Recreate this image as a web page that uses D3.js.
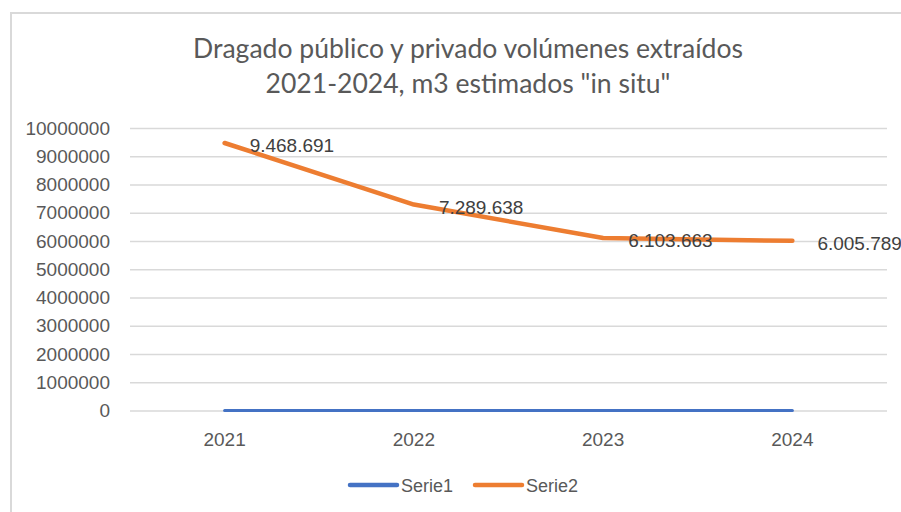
<!DOCTYPE html>
<html><head><meta charset="utf-8">
<script src="https://cdn.jsdelivr.net/npm/d3@7"></script>
<style>body{margin:0;background:#fff}svg{display:block}</style>
</head><body>
<svg id="c" width="901" height="512"></svg>
<script>
const categories = ["2021","2022","2023","2024"];
const serie1 = [0,0,0,0];
const serie2 = [9468691,7289638,6103663,6005789];
const serie2Labels = ["9.468.691","7.289.638","6.103.663","6.005.789"];
const yTicks = [0,1000000,2000000,3000000,4000000,5000000,6000000,7000000,8000000,9000000,10000000];
const titleLines = ["Dragado público y privado volúmenes extraídos","2021-2024, m3 estimados \"in situ\""];
const seriesNames = ["Serie1","Serie2"];
const colors = ["#4472C4","#ED7D31"];

const svg = d3.select("#c");
const txt = "#595959";
const font = "'Liberation Sans', Arial, sans-serif";

// chart border
svg.append("rect").attr("x",11).attr("y",13).attr("width",1000).attr("height",600)
  .attr("fill","#fff").attr("stroke","#d9d9d9").attr("stroke-width",2);

// title
const tEl = svg.append("g");
const tTexts = titleLines.map((t,i)=>tEl.append("text").attr("x",468).attr("y",58+i*35).attr("text-anchor","middle")
    .attr("font-family","Lato, 'Open Sans', sans-serif").attr("font-size",23).attr("fill",txt).text(t));
const w0 = tTexts[0].node().getComputedTextLength();
const fs = Math.min(27, 23*550/w0);
tTexts.forEach(t=>t.attr("font-size",fs));

const x = d3.scaleBand().domain(categories).range([130,887]);
const y = d3.scaleLinear().domain([0,10000000]).range([410.5,128]);

// grid
const yAxis = d3.axisLeft(y).tickValues(yTicks).tickSize(-(887-130)).tickFormat(d=>String(d)).tickPadding(20);
const gy = svg.append("g").attr("transform","translate(130,0)").call(yAxis);
gy.select(".domain").remove();
gy.selectAll(".tick line").attr("stroke","#d9d9d9").attr("stroke-width",1.5);
gy.selectAll(".tick text").attr("font-family",font).attr("font-size",19).attr("fill",txt);

const xAxis = d3.axisBottom(x).tickSize(0).tickPadding(22);
const gx = svg.append("g").attr("transform","translate(0,410.5)").call(xAxis);
gx.select(".domain").remove();
gx.selectAll(".tick text").attr("font-family",font).attr("font-size",19).attr("fill",txt);

const cx = d=>x(d)+x.bandwidth()/2;
const line = d3.line().x(d=>cx(d.c)).y(d=>y(d.v));

svg.append("path").datum(categories.map((c,i)=>({c,v:serie1[i]})))
  .attr("d",line).attr("fill","none").attr("stroke",colors[0]).attr("stroke-width",3).attr("stroke-linecap","round");
svg.append("path").datum(categories.map((c,i)=>({c,v:serie2[i]})))
  .attr("d",line).attr("fill","none").attr("stroke",colors[1]).attr("stroke-width",4.5).attr("stroke-linecap","round").attr("stroke-linejoin","round");

// data labels
svg.append("g").selectAll("text").data(categories).join("text")
  .attr("x",(c)=>cx(c)+25).attr("y",(c,i)=>y(serie2[i])+9)
  .attr("font-family",font).attr("font-size",19).attr("fill","#404040")
  .text((c,i)=>serie2Labels[i]);

// legend
const lg = svg.append("g");
seriesNames.forEach((n,i)=>{
  const x0 = 350 + i*125;
  lg.append("line").attr("x1",x0).attr("x2",x0+47).attr("y1",485).attr("y2",485)
    .attr("stroke",colors[i]).attr("stroke-width",4.5).attr("stroke-linecap","round");
  lg.append("text").attr("x",x0+51).attr("y",491.5).attr("font-family",font).attr("font-size",18).attr("fill",txt).text(n);
});
</script>
</body></html>
